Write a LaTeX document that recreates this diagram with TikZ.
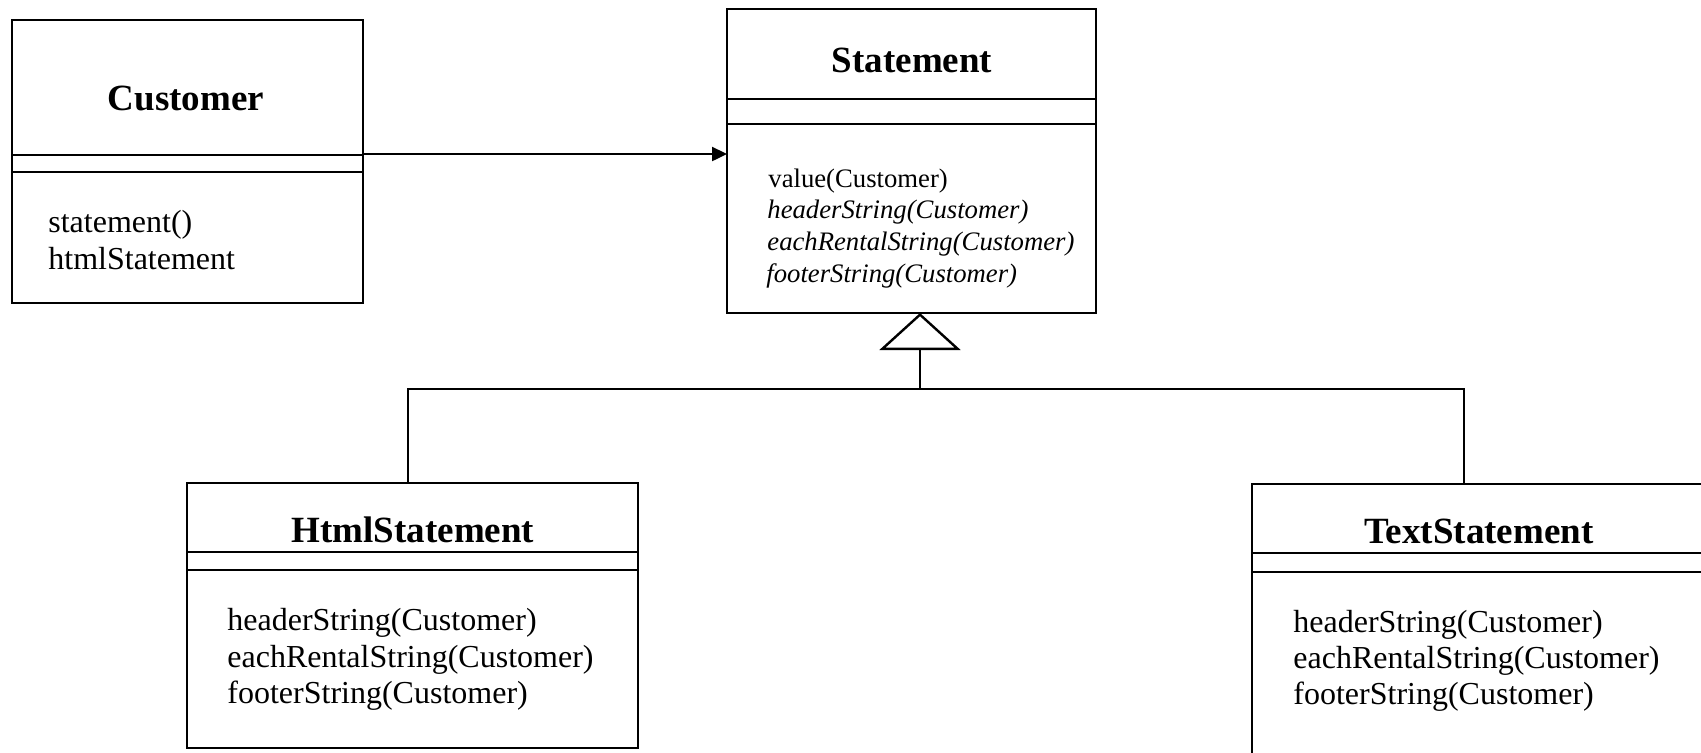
\documentclass[tikz,border=0pt]{standalone}
\usepackage{fontspec}
\setmainfont{Liberation Serif}
\usetikzlibrary{arrows.meta}

\tikzset{
  classbox/.style={draw, line width=1.2pt, inner sep=0pt, outer sep=0pt},
  seprule/.style={line width=1.2pt},
  classname/.style={anchor=base, inner sep=0pt, font=\fontsize{18.5}{22}\selectfont\bfseries},
  member/.style={anchor=base west, inner sep=0pt, font=\fontsize{16}{19}\selectfont},
  smallmember/.style={anchor=base west, inner sep=0pt, font=\fontsize{13.35}{16}\selectfont},
  assoc/.style={line width=1.2pt, -{Triangle[length=7.5pt,width=7pt]}},
  inherit/.style={line width=1.2pt, -{Triangle[open,length=18.5pt,width=40.5pt,fill=white]}},
  conn/.style={line width=1.2pt},
}

\begin{document}
\begin{tikzpicture}[x=0.5pt, y=-0.5pt]
\useasboundingbox (0,0) rectangle (1701,752);

% class boxes
\node[classbox, minimum width=175.5pt, minimum height=141.5pt] (cust) at (187.5,161.5) {};
\node[classbox, minimum width=184.5pt, minimum height=152pt] (stmt) at (911.5,161) {};
\node[classbox, minimum width=225.5pt, minimum height=132.5pt] (html) at (412.5,615.5) {};
\node[classbox, minimum width=226.5pt, minimum height=136.5pt] (txt) at (1478.5,620.5) {};

% compartment rules
\draw[seprule] ([yshift=-67.5pt]cust.north west) -- ([yshift=-67.5pt]cust.north east);
\draw[seprule] ([yshift=-76pt]cust.north west) -- ([yshift=-76pt]cust.north east);
\draw[seprule] ([yshift=-45pt]stmt.north west) -- ([yshift=-45pt]stmt.north east);
\draw[seprule] ([yshift=-57.5pt]stmt.north west) -- ([yshift=-57.5pt]stmt.north east);
\draw[seprule] ([yshift=-34.5pt]html.north west) -- ([yshift=-34.5pt]html.north east);
\draw[seprule] ([yshift=-43.5pt]html.north west) -- ([yshift=-43.5pt]html.north east);
\draw[seprule] ([yshift=-34.5pt]txt.north west) -- ([yshift=-34.5pt]txt.north east);
\draw[seprule] ([yshift=-44pt]txt.north west) -- ([yshift=-44pt]txt.north east);

% class names
\node[classname] (custname) at (186,110) {Customer};
\node[classname] (stmtname) at (912,72) {Statement};
\node[classname] (htmlname) at (413,542) {HtmlStatement};
\node[classname] (txtname) at (1479,543) {TextStatement};

% operations
\node[member] (c1) at (48,232) {statement()};
\node[member] (c2) at (48,269) {htmlStatement};

\node[smallmember] (s1) at (768,187) {value(Customer)};
\node[smallmember] (s2) at (767,218) {\itshape headerString(Customer)};
\node[smallmember] (s3) at (767,250) {\itshape eachRentalString(Customer)};
\node[smallmember] (s4) at (766,282) {\itshape footerString(Customer)};

\node[member] (h1) at (227,630) {headerString(Customer)};
\node[member] (h2) at (227,667) {eachRentalString(Customer)};
\node[member] (h3) at (227,703) {footerString(Customer)};

\node[member] (t1) at (1293,632) {headerString(Customer)};
\node[member] (t2) at (1293,668) {eachRentalString(Customer)};
\node[member] (t3) at (1293,704) {footerString(Customer)};

% association
\draw[assoc] ([yshift=-67pt]cust.north east) -- ([yshift=-72.5pt]stmt.north west);

% generalization
\coordinate (bus) at (920,389);
\draw[conn] ([xshift=-2.25pt]html.north) |- (bus) -| ([xshift=-7.25pt]txt.north);
\draw[inherit] (bus) -- ([xshift=4.25pt]stmt.south);
\end{tikzpicture}
\end{document}
